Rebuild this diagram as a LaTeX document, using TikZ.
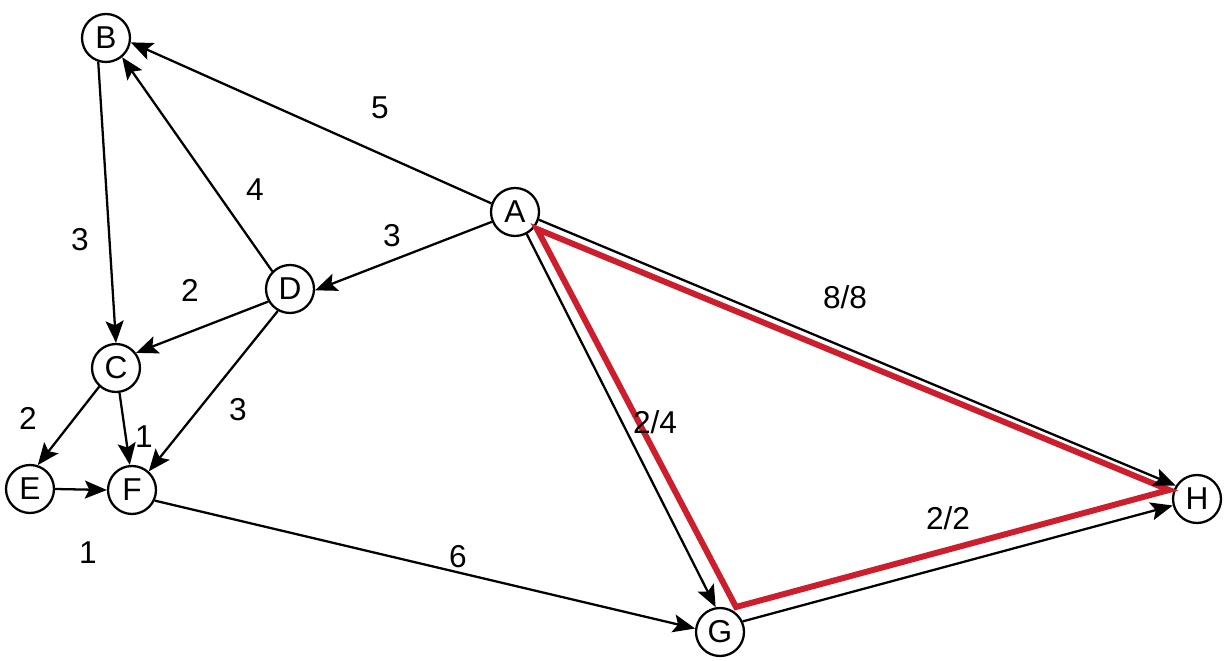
\documentclass[tikz,border=0pt]{standalone}
\usepackage{fontspec}
\setmainfont{Liberation Sans}
\usetikzlibrary{arrows.meta}
\definecolor{pathred}{RGB}{205,30,45}
\begin{document}
\begin{tikzpicture}[x=0.02cm,y=-0.02cm,
  vtx/.style={circle,draw,line width=1.3pt,minimum size=0.96cm,inner sep=0pt,fill=white,font=\fontsize{18}{20}\selectfont},
  edge/.style={line width=1.3pt,-{Stealth[length=0.44cm,width=0.36cm,inset=0.09cm]}},
  wt/.style={font=\fontsize{18}{21}\selectfont,inner sep=1pt},
  hl/.style={line width=3.4pt,pathred,line join=miter}]
\useasboundingbox (0,0) rectangle (1229,661);
% vertices
\node[vtx] (A) at (515,212) {A};
\node[vtx] (B) at (106,38) {B};
\node[vtx] (C) at (116,368) {C};
\node[vtx] (D) at (290,289) {D};
\node[vtx] (E) at (30,489) {E};
\node[vtx] (F) at (132,490) {F};
\node[vtx] (G) at (720,632) {G};
\node[vtx] (H) at (1197,499) {H};
% highlighted path
\coordinate (rA) at (537,229);
\coordinate (rG) at (736,607);
\coordinate (rH) at (1169,490);
\draw[hl] (rA) -- (rG) -- (rH) -- cycle;
% edges
\draw[edge] (A.160) -- (B.-10);
\draw[edge] (B.252) -- (C.90);
\draw[edge] (D.135) -- (B.-50);
\draw[edge] (A.203) -- (D.-3);
\draw[edge] (D.210) -- (C.37);
\draw[edge] (D.241) -- (F.48);
\draw[edge] (C.228) -- (E.72);
\draw[edge] (C.-82) -- (F.95);
\draw[edge] (E.east) -- (F.west);
\draw[edge] (F.-25) -- (G.172);
\draw[edge] (A.-18) -- (H.148);
\draw[edge] (A.-62) -- (G.100);
\draw[edge] (G.25) -- (H.195);
% weights
\node[wt] (wAB) at (380,108) {5};
\node[wt] (wBC) at (80,240) {3};
\node[wt] (wDB) at (255,190) {4};
\node[wt] (wAD) at (392,236) {3};
\node[wt] (wDC) at (190,290) {2};
\node[wt] (wDF) at (238,410) {3};
\node[wt] (wCE) at (28,418) {2};
\node[wt] (wCF) at (144,437) {1};
\node[wt] (wEF) at (88,553) {1};
\node[wt] (wFG) at (458,557) {6};
\node[wt] (wAH) at (845,297) {8/8};
\node[wt] (wAG) at (655,422) {2/4};
\node[wt] (wGH) at (948,518) {2/2};
\end{tikzpicture}
\end{document}
